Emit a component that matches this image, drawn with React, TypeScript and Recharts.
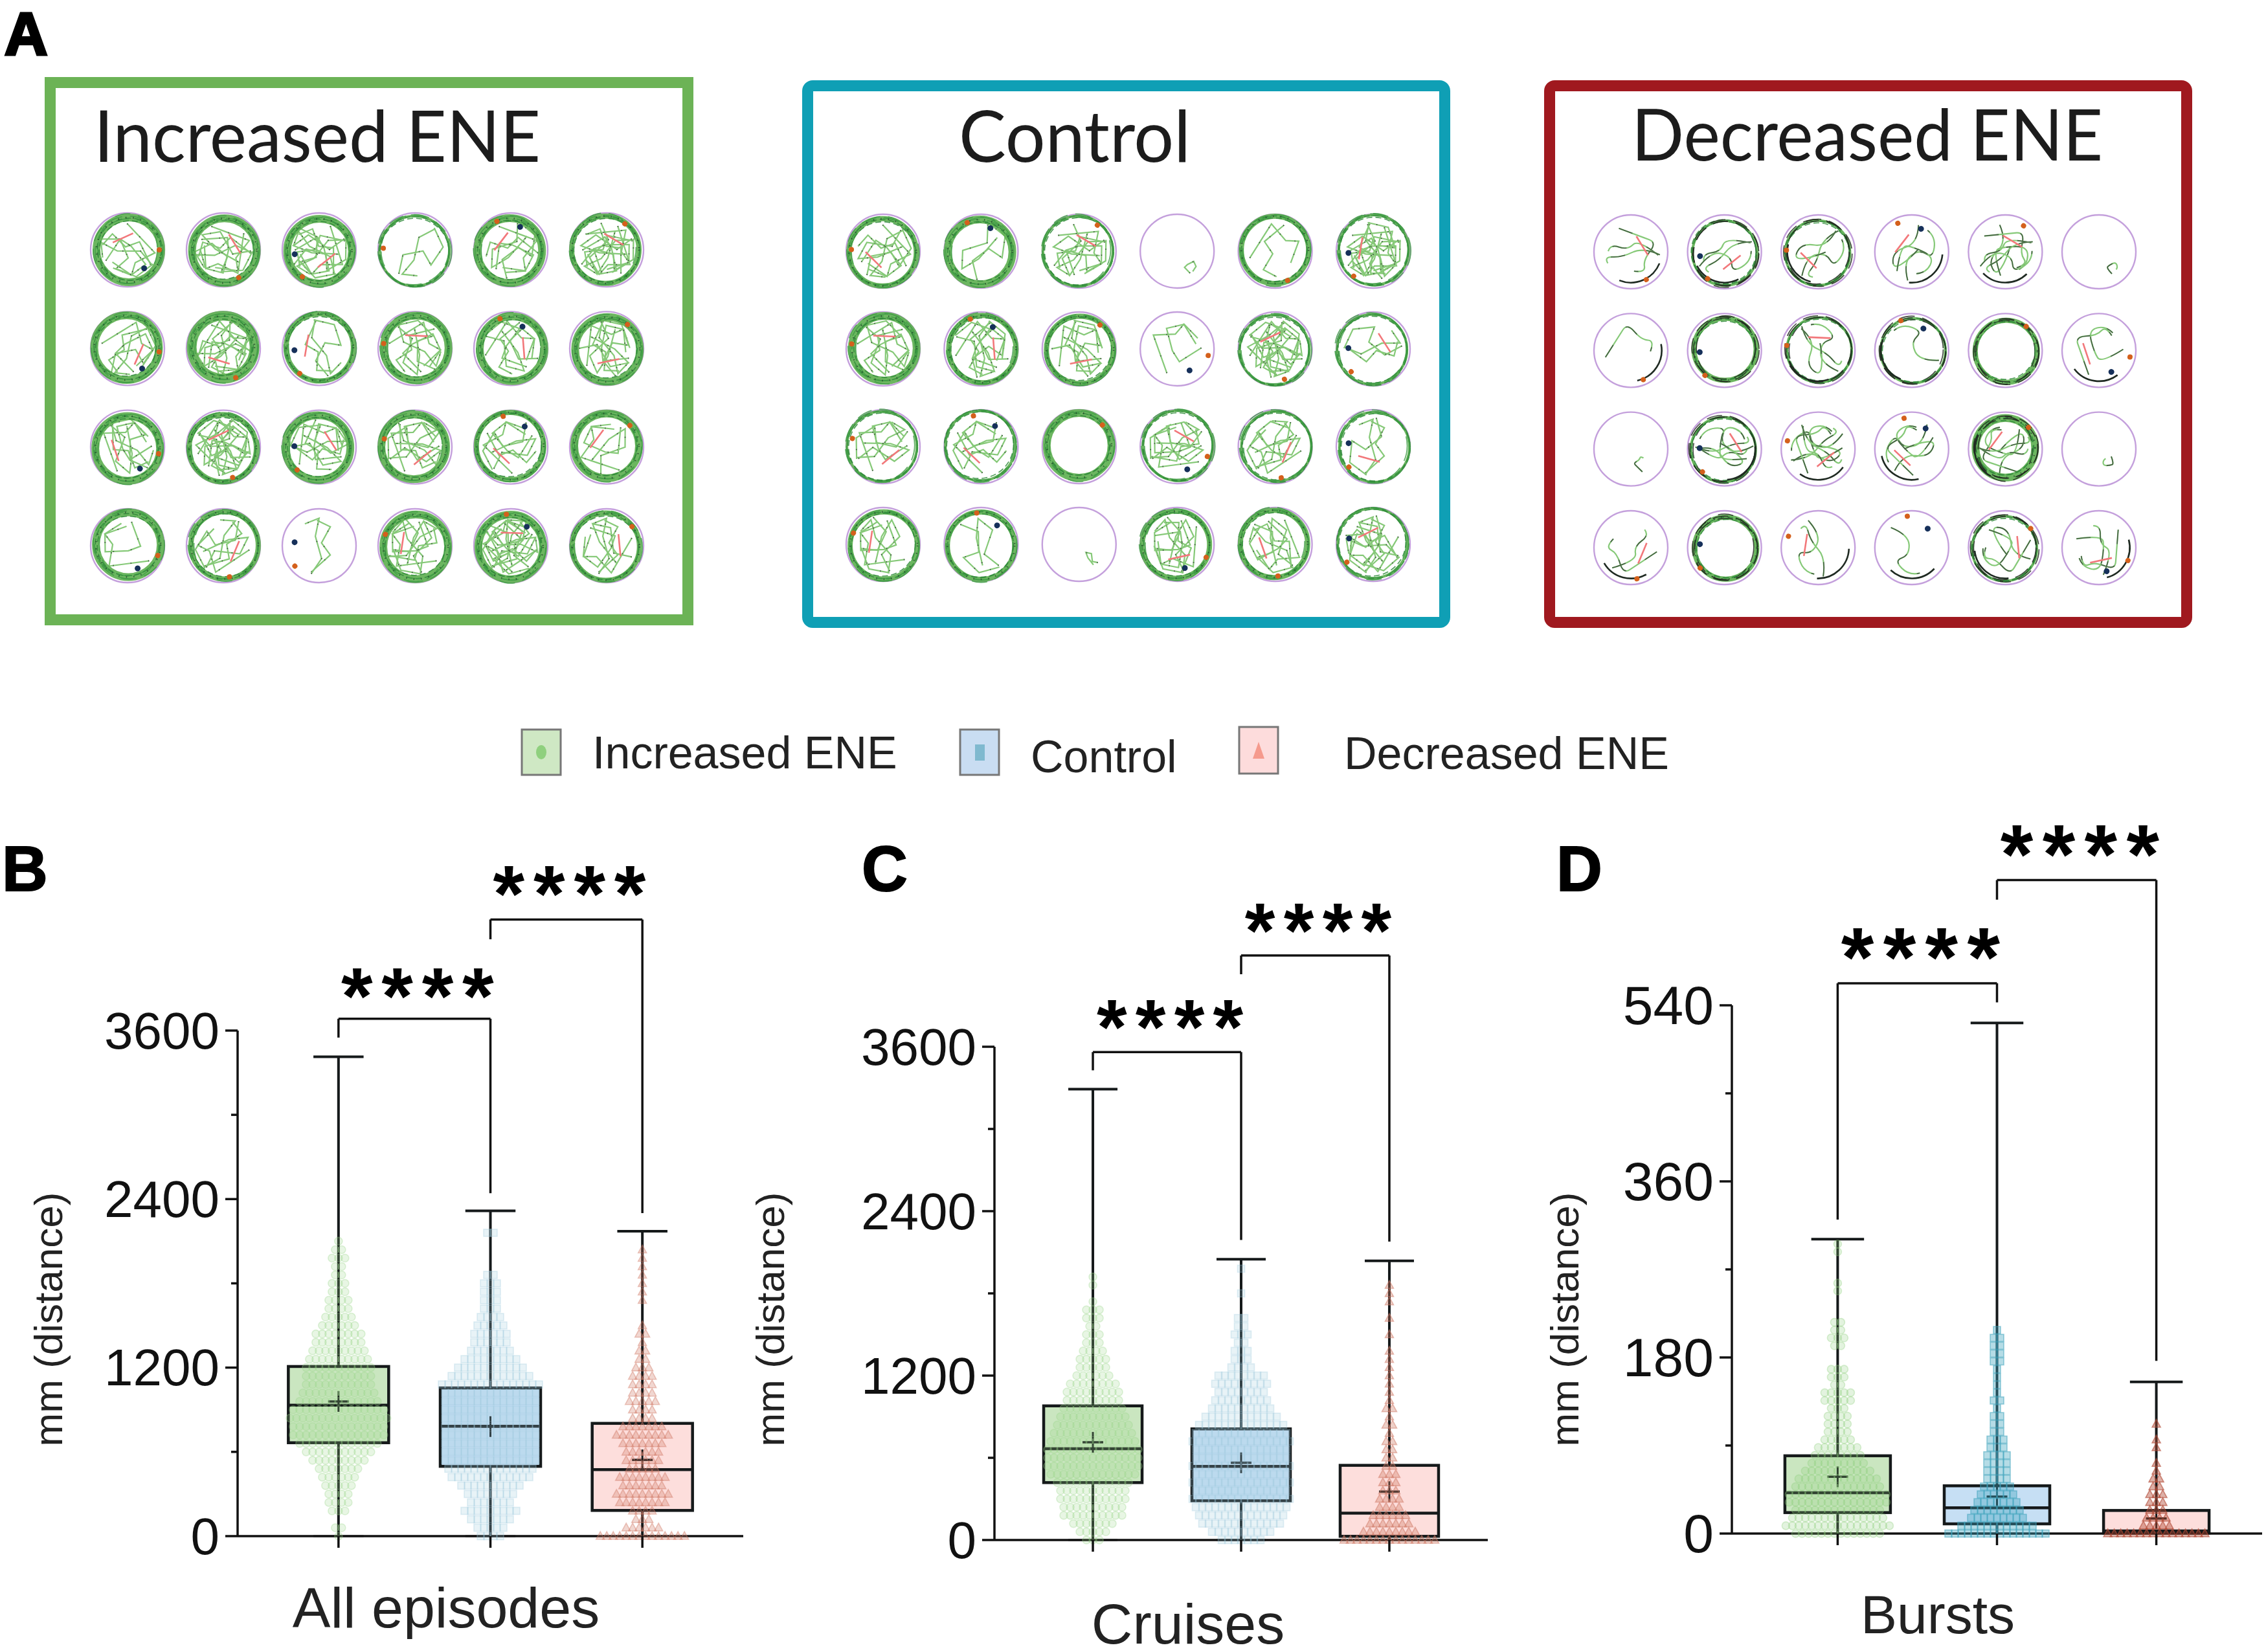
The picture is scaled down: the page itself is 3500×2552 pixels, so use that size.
import React from 'react';
import {
  Bar,
  ComposedChart,
  ReferenceDot,
  ReferenceLine,
  Scatter,
  ScatterChart,
  XAxis,
  YAxis
} from 'recharts';

const PAGE_W = 3500;
const PAGE_H = 2552;
const FONT = '"Liberation Sans", Arial, sans-serif';

const groups = ['Increased ENE', 'Control', 'Decreased ENE'];
const groupX = [1, 2, 3];
const xDomain = [0.336, 3.664];

// Panel B, All episodes
const allMax = [3413, 2316, 2171];
const allQ3 = [1208, 1055, 803];
const allMedian = [932, 783, 474];
const allQ1 = [665, 497, 183];
const allMean = [959, 780, 543];
const allBins = [0, 60, 120, 180, 240, 300, 360, 420, 480, 540, 600, 660, 720, 780, 840, 900, 960, 1020, 1080, 1140, 1200, 1260, 1320, 1380, 1440, 1500, 1560, 1620, 1680, 1740, 1800, 1860, 1920, 1980, 2040, 2100, 2160];
const allSwarm = [
  [1, 2, 0, 3, 4, 4, 5, 6, 7, 9, 11, 13, 15, 15, 16, 15, 13, 12, 11, 11, 11, 10, 9, 8, 8, 6, 5, 4, 4, 3, 3, 2, 2, 3, 2, 1, 0],
  [4, 5, 7, 9, 7, 8, 10, 13, 14, 15, 15, 15, 15, 15, 15, 15, 15, 15, 16, 13, 11, 9, 7, 6, 6, 5, 4, 3, 3, 3, 3, 2, 0, 0, 0, 0, 2],
  [14, 6, 3, 4, 8, 9, 7, 8, 5, 6, 6, 7, 9, 7, 4, 4, 5, 4, 4, 4, 3, 2, 2, 1, 2, 1, 0, 0, 1, 1, 1, 1, 1, 1, 1, 0, 0]
];

// Panel C, Cruises
const cruiseMax = [3290, 2049, 2037];
const cruiseQ3 = [979, 811, 545];
const cruiseMedian = [666, 537, 196];
const cruiseQ1 = [419, 286, 27];
const cruiseMean = [713, 564, 353];
const cruiseBins = [0, 60, 120, 180, 240, 300, 360, 420, 480, 540, 600, 660, 720, 780, 840, 900, 960, 1020, 1080, 1140, 1200, 1260, 1320, 1380, 1440, 1500, 1560, 1620, 1680, 1740, 1800, 1860, 1920, 1980];
const cruiseSwarm = [
  [3, 5, 7, 10, 10, 11, 11, 12, 14, 15, 15, 15, 14, 13, 12, 11, 10, 9, 9, 8, 6, 5, 5, 4, 3, 3, 2, 3, 3, 1, 0, 1, 1, 0],
  [7, 10, 13, 14, 15, 16, 15, 16, 15, 16, 15, 15, 16, 15, 14, 12, 10, 9, 8, 9, 8, 4, 3, 3, 2, 3, 2, 2, 0, 0, 1, 0, 0, 1],
  [15, 9, 7, 6, 4, 4, 3, 3, 3, 2, 2, 2, 2, 1, 2, 1, 2, 1, 1, 1, 1, 1, 1, 1, 0, 1, 0, 1, 0, 1, 1, 1, 0, 0]
];

// Panel D, Bursts
const burstMax = [301, 522, 155];
const burstQ3 = [79.5, 48.8, 23.6];
const burstMedian = [41.7, 26.3, 2.7];
const burstQ1 = [21.4, 9.9, 0.5];
const burstMean = [58, 37.8, 15.4];
const burstBins = [0, 8, 16, 24, 32, 40, 48, 56, 64, 72, 80, 88, 96, 104, 112, 120, 128, 136, 144, 152, 160, 168, 176, 184, 192, 200, 208, 216, 224, 232, 240, 248, 256, 264, 272, 280, 288, 296];
const burstSwarm = [
  [14, 17, 15, 14, 16, 16, 14, 13, 11, 9, 8, 7, 5, 4, 4, 4, 3, 5, 5, 2, 3, 3, 0, 0, 2, 3, 2, 2, 0, 0, 0, 1, 1, 0, 0, 0, 1, 1],
  [16, 12, 9, 8, 7, 6, 5, 4, 4, 4, 4, 3, 3, 2, 2, 2, 1, 2, 1, 1, 1, 1, 2, 2, 2, 2, 1, 0, 0, 0, 0, 0, 0, 0, 0, 0, 0, 0],
  [16, 5, 4, 3, 3, 3, 2, 2, 1, 1, 0, 1, 1, 0, 1, 0, 0, 0, 0, 0, 0, 0, 0, 0, 0, 0, 0, 0, 0, 0, 0, 0, 0, 0, 0, 0, 0, 0]
];

const distanceTicks = [0, 600, 1200, 1800, 2400, 3000, 3600];
const burstTicks = [0, 90, 180, 270, 360, 450, 540];

// bracket ends: [left foot, top, right foot]
const allBrackets = [[3550, 3684, 2442], [4250, 4391, 2300]];
const cruiseBrackets = [[3428, 3561, 2190], [4129, 4266, 2178]];
const burstBrackets = [[321, 562.5, 543], [648, 668, 176.5]];

const allStars = [3913, 4640];
const cruiseStars = [3808, 4513];
const burstStars = [599, 704];

// Panel A, how thick the wall ring is and how many tracks cross each well
const increasedRing = [[3, 3, 3, 1, 3, 2], [3, 4, 2, 3, 3, 3], [3, 2, 3, 3, 2, 3], [3, 2, 0, 3, 3, 2]];
const increasedTracks = [[3, 5, 6, 1, 3, 7], [3, 6, 2, 4, 3, 5], [4, 8, 5, 5, 3, 2], [1, 3, 1, 5, 8, 3]];
const controlRing = [[2, 3, 1, 0, 2, 1], [3, 2, 2, 0, 1, 1], [1, 1, 3, 1, 1, 1], [2, 2, 0, 2, 2, 1]];
const controlTracks = [[4, 1, 5, 0, 1, 8], [4, 5, 4, 1, 8, 2], [3, 3, 0, 5, 4, 2], [3, 1, 0, 5, 4, 6]];
const decreasedRing = [[0, 1, 1, 0, 0, 0], [0, 2, 1, 1, 2, 0], [0, 1, 0, 0, 3, 0], [0, 2, 0, 0, 1, 0]];
const decreasedTracks = [[3, 3, 3, 3, 6, 0], [1, 0, 3, 1, 0, 2], [0, 5, 7, 4, 5, 0], [2, 0, 2, 1, 3, 3]];

const trackShapes = [
  [[-0.6, 0.3], [-0.2, -0.3], [0.1, -0.1], [0.5, 0.4], [0.1, 0.7], [-0.4, 0.5]],
  [[-0.7, -0.2], [-0.1, -0.5], [0.3, -0.7], [0.4, -0.1], [0.7, 0.1], [0.2, 0.5]],
  [[-0.3, -0.7], [-0.4, 0], [0, 0.1], [0.1, 0.6], [0.5, 0.5]],
  [[-0.8, 0.1], [-0.3, 0.2], [0.2, -0.2], [0.7, -0.3], [0.4, -0.6]],
  [[0, -0.8], [0.2, -0.3], [-0.2, 0.1], [-0.6, -0.1], [-0.6, 0.5], [-0.1, 0.8]],
  [[0.7, 0.3], [0.2, 0.2], [0.1, -0.5], [-0.4, -0.6], [-0.2, -0.1], [0.3, 0.5]]
];

const boxFill = ['#a9d69a', '#a3cbee', '#fbc9c6'];
const softDots = ['#9ad68a', '#9cc9dc', '#d07a66'];
const denseDots = ['#8fd07e', '#3fa3bd', '#b24a36'];

const buildBoxes = (q1: number[], median: number[], q3: number[], max: number[], mean: number[]) =>
  groupX.map((x, i) => ({
    x,
    group: i,
    name: groups[i],
    box: [q1[i], q3[i]],
    min: 0,
    q1: q1[i],
    median: median[i],
    q3: q3[i],
    max: max[i],
    mean: mean[i]
  }));

// beeswarm rows: each row is a value with so many points side by side
const buildSwarm = (bins: number[], counts: number[], center: number, xStep: number) => {
  const pts: { x: number; y: number }[] = [];
  bins.forEach((y, r) => {
    const n = counts[r];
    for (let k = 0; k < n; k++) {
      pts.push({ x: center + (k - (n - 1) / 2) * xStep, y });
    }
  });
  return pts;
};

// the bar's own width collapses on a number axis, so the box width comes in here
const boxShape = (boxW: number) => (props: any) => {
  const { x, y, width, height, payload } = props;
  const perUnit = height / (payload.q3 - payload.q1);
  const toY = (v: number) => y + (payload.q3 - v) * perUnit;
  const cx = x + width / 2;
  const left = cx - boxW / 2;
  const cap = boxW / 4;
  const ink = '#15191a';
  return (
    <g>
      <rect x={left} y={y} width={boxW} height={height} fill={boxFill[payload.group]} fillOpacity={0.62} stroke={ink} strokeWidth={4.5} />
      <line x1={cx} x2={cx} y1={toY(payload.max)} y2={y} stroke={ink} strokeWidth={4} />
      <line x1={cx} x2={cx} y1={y + height} y2={toY(payload.min)} stroke={ink} strokeWidth={4} />
      <line x1={cx - cap} x2={cx + cap} y1={toY(payload.max)} y2={toY(payload.max)} stroke={ink} strokeWidth={4} />
      <line x1={cx - cap} x2={cx + cap} y1={toY(payload.min)} y2={toY(payload.min)} stroke="#888" strokeWidth={3.5} />
      <line x1={left} x2={left + boxW} y1={toY(payload.median)} y2={toY(payload.median)} stroke={ink} strokeWidth={4.5} />
      <line x1={cx - 16} x2={cx + 16} y1={toY(payload.mean)} y2={toY(payload.mean)} stroke={ink} strokeWidth={3.5} />
      <line x1={cx} x2={cx} y1={toY(payload.mean) - 16} y2={toY(payload.mean) + 16} stroke={ink} strokeWidth={3} />
    </g>
  );
};

const swarmDot = (group: number, color: string, opacity: number) => (p: any) => {
  const { cx, cy } = p;
  const common = { fill: color, fillOpacity: opacity * 0.55, stroke: color, strokeOpacity: opacity * 0.75, strokeWidth: 1.6 };
  if (group === 0) return <circle cx={cx} cy={cy} r={6} {...common} />;
  if (group === 1) return <rect x={cx - 5.5} y={cy - 5.5} width={11} height={11} {...common} />;
  return <path d={`M${cx} ${cy - 7}L${cx + 6.5} ${cy + 5}L${cx - 6.5} ${cy + 5}Z`} {...common} />;
};

const YTick = (props: any) => {
  const { x, y, payload, major, size } = props;
  const isMajor = payload.value % major === 0;
  return (
    <g>
      <line x1={x - (isMajor ? 19 : 10)} x2={x} y1={y} y2={y} stroke="#111" strokeWidth={3.5} />
      {isMajor && (
        <text x={x - 28} y={y} textAnchor="end" dominantBaseline="central" fontFamily={FONT} fontSize={size} fill="#111">
          {payload.value}
        </text>
      )}
    </g>
  );
};

const XTick = (props: any) => (
  <line x1={props.x} x2={props.x} y1={props.y} y2={props.y + 18} stroke="#111" strokeWidth={3.5} />
);

const Stars = (size: number) => (p: any) => (
  <text
    x={p.cx + size * 0.055}
    y={p.cy + size * 0.46}
    textAnchor="middle"
    fontFamily={FONT}
    fontWeight="bold"
    fontSize={size}
    letterSpacing={size * 0.11}
    fill="#000"
  >
    ****
  </text>
);

const layer: React.CSSProperties = { position: 'absolute', left: 0, top: 0 };

interface PanelProps {
  left: number;
  right: number;
  top: number;
  bottom: number;
  yMax: number;
  yTicks: number[];
  major: number;
  tickSize: number;
  boxes: any[];
  bins: number[];
  swarm: number[][];
  swarmColor: string[];
  swarmAlpha: number[];
  barSize: number;
  brackets: number[][];
  stars: number[];
  starSize: number;
  xLabel: string;
  xLabelX: number;
  xLabelY: number;
  xLabelSize: number;
  yLabelX: number;
  letter: string;
  letterX: number;
}

const BoxPanel = (cfg: PanelProps) => {
  const xStep = 10 / ((cfg.right - cfg.left) / (xDomain[1] - xDomain[0]));
  const bracketLine = { ifOverflow: 'visible' as const, stroke: '#111', strokeWidth: 3.5 };
  return (
    <div style={layer}>
      <ComposedChart
        width={PAGE_W}
        height={PAGE_H}
        data={cfg.boxes}
        margin={{ left: 0, top: cfg.top, right: PAGE_W - cfg.right, bottom: 0 }}
      >
        <XAxis
          type="number"
          dataKey="x"
          domain={xDomain}
          ticks={groupX}
          interval={0}
          height={PAGE_H - cfg.bottom}
          tickSize={0}
          tickMargin={0}
          tickLine={false}
          tick={<XTick />}
          axisLine={{ stroke: '#111', strokeWidth: 3.5 }}
        />
        <YAxis
          type="number"
          dataKey="y"
          domain={[0, cfg.yMax]}
          ticks={cfg.yTicks}
          interval={0}
          width={cfg.left}
          tickSize={0}
          tickMargin={0}
          tickLine={false}
          tick={<YTick major={cfg.major} size={cfg.tickSize} />}
          axisLine={{ stroke: '#111', strokeWidth: 3.5 }}
        />
        {groupX.map((center, i) => (
          <Scatter
            key={groups[i]}
            name={groups[i]}
            data={buildSwarm(cfg.bins, cfg.swarm[i], center, xStep)}
            shape={swarmDot(i, cfg.swarmColor[i], cfg.swarmAlpha[i])}
            isAnimationActive={false}
          />
        ))}
        <Bar dataKey="box" shape={boxShape(cfg.barSize)} isAnimationActive={false} />
        {cfg.brackets.map(([foot, top, end], i) => (
          <React.Fragment key={i}>
            <ReferenceLine {...bracketLine} segment={[{ x: i + 1, y: foot }, { x: i + 1, y: top }]} />
            <ReferenceLine {...bracketLine} segment={[{ x: i + 1, y: top }, { x: i + 2, y: top }]} />
            <ReferenceLine {...bracketLine} segment={[{ x: i + 2, y: top }, { x: i + 2, y: end }]} />
            <ReferenceDot ifOverflow="visible" x={i + 1.52} y={cfg.stars[i]} r={0} shape={Stars(cfg.starSize)} />
          </React.Fragment>
        ))}
        <text x={cfg.xLabelX} y={cfg.xLabelY} textAnchor="middle" fontFamily={FONT} fontSize={cfg.xLabelSize} fill="#222">
          {cfg.xLabel}
        </text>
        <text
          transform={`translate(${cfg.yLabelX} 2038) rotate(-90)`}
          textAnchor="middle"
          fontFamily={FONT}
          fontSize={62}
          fill="#222"
        >
          mm (distance)
        </text>
        <text x={cfg.letterX} y={1376} fontFamily={FONT} fontWeight="bold" fontSize={98} fill="#000" stroke="#000" strokeWidth={2}>
          {cfg.letter}
        </text>
      </ComposedChart>
    </div>
  );
};

const Well = (p: any) => {
  const { cx, cy, payload } = p;
  const { ring, tracks, seed, curvy } = payload;
  const R = 57;
  const paths: React.ReactNode[] = [];
  const idle = ring === 0 && tracks === 0;
  const count = idle ? 1 : curvy ? tracks : Math.ceil(tracks * 1.4);
  for (let k = 0; k < count; k++) {
    const shape = trackShapes[(seed + k) % trackShapes.length];
    const scale = idle ? R * 0.3 : R * 0.98;
    const pts = shape.map(([a, b]) => [a * scale, b * scale]);
    let d = `M${pts[0][0]} ${pts[0][1]}`;
    if (curvy) {
      for (let n = 1; n < pts.length - 1; n++) {
        const mx = (pts[n][0] + pts[n + 1][0]) / 2;
        const my = (pts[n][1] + pts[n + 1][1]) / 2;
        d += `Q${pts[n][0]} ${pts[n][1]} ${mx} ${my}`;
      }
    } else {
      pts.slice(1).forEach((q) => (d += `L${q[0]} ${q[1]}`));
    }
    paths.push(
      <g key={k} transform={`translate(${idle ? R * 0.3 : 0} ${idle ? R * 0.4 : 0}) rotate(${(seed * 47 + k * 73) % 360})`}>
        <path d={d} fill="none" stroke="#86c978" strokeWidth={2.2} />
        <path d={d} fill="none" stroke="#2d3a30" strokeWidth={curvy ? 1.6 : 2} strokeDasharray={curvy ? '22 34' : '1.5 26'} strokeOpacity={0.75} />
      </g>
    );
  }
  const ringWidth = [0, 4, 8, 12, 15][ring];
  const ringR = R - 1 - ringWidth / 2 - (curvy ? 4 : 0);
  const sway = ((seed * 37) % 360) * (Math.PI / 180);
  const dx = Math.cos(sway) * 2;
  const dy = Math.sin(sway) * 2;
  // several slightly shifted loops so the wall reads as bundled swimming paths
  const loops = ring === 0 ? [] : [0, 1, 2, 3, 4];
  return (
    <g>
      <circle cx={cx} cy={cy} r={R} fill="none" stroke="#c4a0dc" strokeWidth={2.4} />
      <g transform={`translate(${cx} ${cy})`}>
        {paths}
        <g transform={`translate(${dx} ${dy})`}>
          {ring > 0 && <circle r={ringR} fill="none" stroke="#5fb052" strokeWidth={ringWidth} strokeOpacity={0.92} />}
          {loops.map((k) => (
            <ellipse
              key={k}
              cx={((k * 53 + seed * 11) % 5) - 2}
              cy={((k * 31 + seed * 7) % 5) - 2}
              rx={ringR + ((k * 2) % 5 - 2) * (ringWidth / 6)}
              ry={ringR - ((k * 3) % 5 - 2) * (ringWidth / 6)}
              fill="none"
              stroke={k % 2 ? '#2f8a3a' : curvy ? '#20281f' : '#3f9c45'}
              strokeWidth={1.6}
              strokeDasharray={k % 2 ? '9 5' : '24 12'}
              strokeOpacity={0.85}
            />
          ))}
          {ring > 1 && (
            <circle r={ringR} fill="none" stroke="#24402c" strokeWidth={2.6} strokeDasharray="1.5 10" strokeOpacity={0.75} />
          )}
        </g>
        {curvy && tracks > 0 && (
          <path
            d={`M${R * 0.78} ${R * 0.3}A${R * 0.84} ${R * 0.84} 0 0 1 ${-R * 0.3} ${R * 0.78}`}
            fill="none"
            stroke="#1f2a22"
            strokeWidth={2.6}
            transform={`rotate(${((seed * 41) % 140) - 40})`}
          />
        )}
        {tracks > 1 && (
          <line
            x1={-R * 0.4}
            y1={-R * 0.2}
            x2={R * 0.15}
            y2={-R * 0.45}
            stroke="#f2777a"
            strokeWidth={2.6}
            transform={`rotate(${(seed * 83) % 360})`}
          />
        )}
        {!idle && (
          <g transform={`rotate(${(seed * 61) % 360})`}>
            <circle cx={R * 0.86} cy={0} r={4} fill="#d4601c" />
            {seed % 2 === 0 && <circle cx={R * 0.45} cy={R * 0.5} r={4.5} fill="#16305a" />}
          </g>
        )}
      </g>
    </g>
  );
};

const buildWells = (ring: number[][], tracks: number[][], curvy: boolean, offset: number) =>
  ring.flatMap((row, r) =>
    row.map((value, c) => ({ x: c, y: r, ring: value, tracks: tracks[r][c], curvy, seed: r * 6 + c + offset }))
  );

interface ArenaProps {
  wells: any[];
  colLeft: number;
  colRight: number;
  rowTop: number;
  rowBottom: number;
  frameX: number;
  frameY: number;
  frameW: number;
  frameH: number;
  frameColor: string;
  corner: number;
  title: string;
  titleX: number;
  titleW: number;
  titleY: number;
}

const ArenaPanel = (cfg: ArenaProps) => (
  <div style={layer}>
    <ScatterChart
      width={PAGE_W}
      height={PAGE_H}
      margin={{ left: cfg.colLeft, right: PAGE_W - cfg.colRight, top: cfg.rowTop, bottom: PAGE_H - cfg.rowBottom }}
    >
      <XAxis type="number" dataKey="x" domain={[0, 5]} hide />
      <YAxis type="number" dataKey="y" domain={[0, 3]} reversed hide />
      <rect
        x={cfg.frameX + 8.5}
        y={cfg.frameY + 8.5}
        width={cfg.frameW - 17}
        height={cfg.frameH - 17}
        rx={cfg.corner}
        fill="#fff"
        stroke={cfg.frameColor}
        strokeWidth={17}
      />
      <text
        x={cfg.titleX}
        y={cfg.titleY}
        fontFamily="Lato, 'Open Sans', sans-serif"
        fontSize={110}
        textLength={cfg.titleW}
        lengthAdjust="spacingAndGlyphs"
        fill="#1c1c1c"
      >
        {cfg.title}
      </text>
      <Scatter data={cfg.wells} shape={Well} isAnimationActive={false} />
    </ScatterChart>
  </div>
);

const LegendStrip = () => {
  const item = (x: number, y: number, h: number, fill: string) => (
    <rect x={x} y={y} width={60} height={h} fill={fill} stroke="#777" strokeWidth={3} />
  );
  const label = (x: number, y: number, t: string) => (
    <text x={x} y={y} fontFamily={FONT} fontSize={70} fill="#222">{t}</text>
  );
  return (
    <svg style={layer} width={PAGE_W} height={PAGE_H}>
      <text x={7} y={84} fontFamily={FONT} fontWeight="bold" fontSize={92} stroke="#000" strokeWidth={4} fill="#000">A</text>
      {item(806, 1127, 70, '#cfe8c4')}
      <ellipse cx={836} cy={1162} rx={8} ry={11} fill="#8fd07e" />
      {label(915, 1187, groups[0])}
      {item(1483, 1127, 70, '#c9ddf2')}
      <rect x={1506} y={1150} width={15} height={25} fill="#7fb9cf" />
      {label(1592, 1193, groups[1])}
      {item(1914, 1123, 72, '#fddcdc')}
      <path d="M1944 1146L1953 1172L1935 1172Z" fill="#f59a8d" />
      {label(2076, 1188, groups[2])}
    </svg>
  );
};

const App = () => (
  <div style={{ position: 'absolute', left: 0, top: 0, width: PAGE_W, height: PAGE_H, background: '#fff', overflow: 'hidden' }}>
    <ArenaPanel
      wells={buildWells(increasedRing, increasedTracks, false, 0)}
      colLeft={197} colRight={937} rowTop={386} rowBottom={843}
      frameX={69} frameY={119} frameW={1002} frameH={847}
      frameColor="#6cb356" corner={0}
      title="Increased ENE" titleX={145} titleW={690} titleY={250}
    />
    <ArenaPanel
      wells={buildWells(controlRing, controlTracks, false, 3)}
      colLeft={1364} colRight={2121} rowTop={388} rowBottom={841}
      frameX={1239} frameY={124} frameW={1001} frameH={846}
      frameColor="#0f9fb5" corner={8}
      title="Control" titleX={1481} titleW={358} titleY={250}
    />
    <ArenaPanel
      wells={buildWells(decreasedRing, decreasedTracks, true, 1)}
      colLeft={2519} colRight={3242} rowTop={389} rowBottom={846}
      frameX={2385} frameY={124} frameW={1001} frameH={846}
      frameColor="#a0191f" corner={8}
      title="Decreased ENE" titleX={2520} titleW={728} titleY={248}
    />
    <LegendStrip />
    <BoxPanel
      left={367} right={1148} top={1592} bottom={2373}
      yMax={3600} yTicks={distanceTicks} major={1200} tickSize={80}
      boxes={buildBoxes(allQ1, allMedian, allQ3, allMax, allMean)}
      bins={allBins} swarm={allSwarm} swarmColor={softDots} swarmAlpha={[0.42, 0.42, 0.55]}
      barSize={155} brackets={allBrackets} stars={allStars} starSize={125}
      xLabel="All episodes" xLabelX={689} xLabelY={2514} xLabelSize={88}
      yLabelX={96} letter="B" letterX={3}
    />
    <BoxPanel
      left={1536} right={2298} top={1617} bottom={2379}
      yMax={3600} yTicks={distanceTicks} major={1200} tickSize={80}
      boxes={buildBoxes(cruiseQ1, cruiseMedian, cruiseQ3, cruiseMax, cruiseMean)}
      bins={cruiseBins} swarm={cruiseSwarm} swarmColor={softDots} swarmAlpha={[0.42, 0.42, 0.65]}
      barSize={152} brackets={cruiseBrackets} stars={cruiseStars} starSize={120}
      xLabel="Cruises" xLabelX={1835} xLabelY={2539} xLabelSize={88}
      yLabelX={1211} letter="C" letterX={1331}
    />
    <BoxPanel
      left={2675} right={3494} top={1553} bottom={2369}
      yMax={540} yTicks={burstTicks} major={180} tickSize={84}
      boxes={buildBoxes(burstQ1, burstMedian, burstQ3, burstMax, burstMean)}
      bins={burstBins} swarm={burstSwarm} swarmColor={denseDots} swarmAlpha={[0.45, 0.7, 0.8]}
      barSize={163} brackets={burstBrackets} stars={burstStars} starSize={130}
      xLabel="Bursts" xLabelX={2993} xLabelY={2523} xLabelSize={84}
      yLabelX={2438} letter="D" letterX={2404}
    />
  </div>
);

export default App;
